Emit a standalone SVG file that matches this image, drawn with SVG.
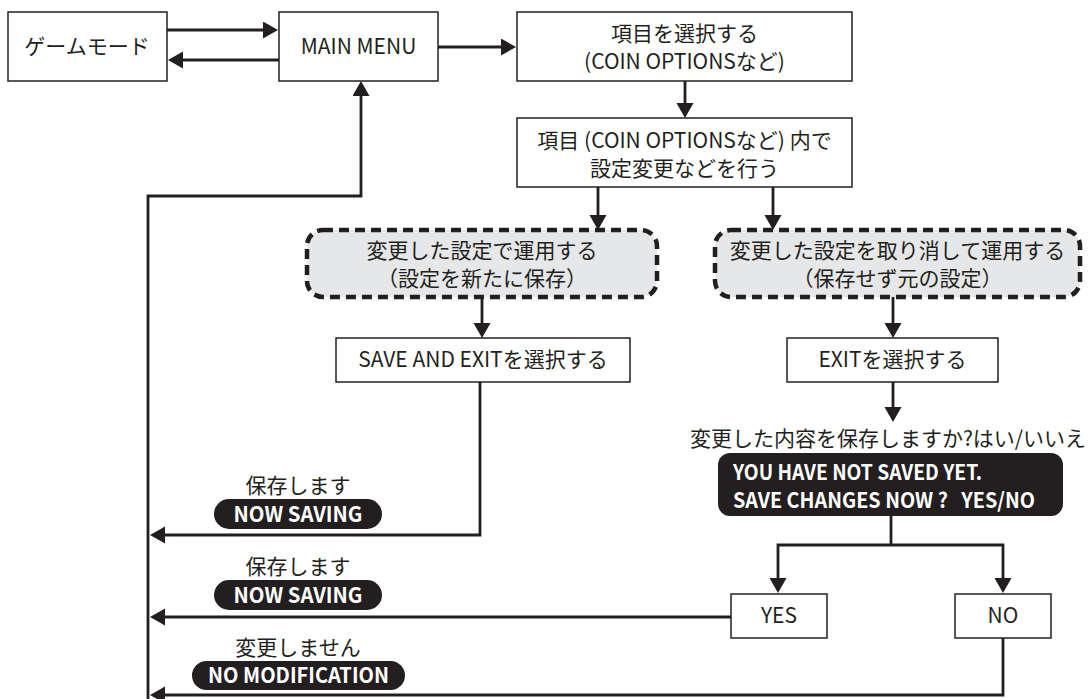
<svg xmlns="http://www.w3.org/2000/svg" width="1089" height="699" viewBox="0 0 1089 699">
  <style>
    .box { fill: #ffffff; stroke: #231f20; stroke-width: 1.5; }
    .choice { fill: #e6e7e8; stroke: #231f20; stroke-width: 4.5; stroke-dasharray: 10 6; }
    .dark { fill: #231f20; }
    .conn { fill: none; stroke: #231f20; stroke-width: 2.8; }
    .t { font-family: "Noto Sans CJK JP", "Noto Sans", sans-serif; font-size: 21px; fill: #231f20; text-anchor: middle; }
    .w { font-family: "Noto Sans CJK JP", "Noto Sans", sans-serif; font-size: 21px; font-weight: 700; fill: #ffffff; }
    .wc { text-anchor: middle; }
  </style>
  <defs>
    <marker id="arrow" markerUnits="userSpaceOnUse" markerWidth="16" markerHeight="18" refX="12" refY="8.5" orient="auto">
      <path d="M0,0 L15,8.5 L0,17 z" fill="#231f20"/>
    </marker>
  </defs>

  <!-- connectors -->
  <g id="connectors">
    <path class="conn" d="M167,30 H275" marker-end="url(#arrow)"/>
    <path class="conn" d="M279,60 H171" marker-end="url(#arrow)"/>
    <path class="conn" d="M438,47 H513" marker-end="url(#arrow)"/>
    <path class="conn" d="M685,81 V115" marker-end="url(#arrow)"/>
    <path class="conn" d="M598,187 V227" marker-end="url(#arrow)"/>
    <path class="conn" d="M773,187 V227" marker-end="url(#arrow)"/>
    <path class="conn" d="M482,297 V335" marker-end="url(#arrow)"/>
    <path class="conn" d="M893,297 V335" marker-end="url(#arrow)"/>
    <path class="conn" d="M893,382 V419" marker-end="url(#arrow)"/>
    <path class="conn" d="M891,516 V545"/>
    <path class="conn" d="M891,545 H778 V590" marker-end="url(#arrow)"/>
    <path class="conn" d="M891,545 H1003 V590" marker-end="url(#arrow)"/>
    <path class="conn" d="M480,382 V535 H153" marker-end="url(#arrow)"/>
    <path class="conn" d="M731,617 H153" marker-end="url(#arrow)"/>
    <path class="conn" d="M1003,638 V695 H153" marker-end="url(#arrow)"/>
    <path class="conn" d="M148,699 V196 H361 V84" marker-end="url(#arrow)"/>
  </g>

  <g id="game-mode">
    <rect class="box" x="8" y="12" width="159" height="69"/>
    <text class="t" x="87" y="54">ゲームモード</text>
  </g>

  <g id="main-menu">
    <rect class="box" x="279" y="12" width="159" height="69"/>
    <text class="t" x="358.5" y="54">MAIN MENU</text>
  </g>

  <g id="select-item">
    <rect class="box" x="517" y="12" width="335" height="69"/>
    <text class="t" x="684.5" y="41">項目を選択する</text>
    <text class="t" x="684.5" y="69">(COIN OPTIONSなど)</text>
  </g>

  <g id="edit-item">
    <rect class="box" x="517" y="118" width="335" height="69"/>
    <text class="t" x="684.5" y="148">項目 (COIN OPTIONSなど) 内で</text>
    <text class="t" x="684.5" y="176">設定変更などを行う</text>
  </g>

  <g id="apply-changes">
    <rect class="choice" x="307" y="230" width="350" height="67" rx="16"/>
    <text class="t" x="482" y="258">変更した設定で運用する</text>
    <text class="t" x="482" y="286">（設定を新たに保存）</text>
  </g>

  <g id="discard-changes">
    <rect class="choice" x="715" y="230" width="365" height="67" rx="16"/>
    <text class="t" x="897.5" y="258">変更した設定を取り消して運用する</text>
    <text class="t" x="897.5" y="286">（保存せず元の設定）</text>
  </g>

  <g id="save-and-exit">
    <rect class="box" x="336" y="338" width="294" height="44"/>
    <text class="t" x="483" y="367">SAVE AND EXITを選択する</text>
  </g>

  <g id="exit">
    <rect class="box" x="787" y="338" width="211" height="44"/>
    <text class="t" x="892.5" y="367">EXITを選択する</text>
  </g>

  <g id="confirm-prompt">
    <text class="t" x="888" y="446">変更した内容を保存しますか?はい/いいえ</text>
    <rect class="dark" x="718" y="453" width="345" height="63" rx="12"/>
    <text class="w" x="733" y="480" textLength="249" lengthAdjust="spacingAndGlyphs">YOU HAVE NOT SAVED YET.</text>
    <text class="w" x="733" y="508" xml:space="preserve" textLength="302" lengthAdjust="spacingAndGlyphs">SAVE CHANGES NOW ?   YES/NO</text>
  </g>

  <g id="yes">
    <rect class="box" x="731" y="594" width="96" height="44"/>
    <text class="t" x="779" y="623">YES</text>
  </g>

  <g id="no">
    <rect class="box" x="955" y="594" width="96" height="44"/>
    <text class="t" x="1003" y="623">NO</text>
  </g>

  <g id="saving-label-1">
    <text class="t" x="298" y="493">保存します</text>
    <rect class="dark" x="214" y="499" width="168" height="30" rx="15"/>
    <text class="w wc" x="298" y="521.5" textLength="129" lengthAdjust="spacingAndGlyphs">NOW SAVING</text>
  </g>

  <g id="saving-label-2">
    <text class="t" x="298" y="574">保存します</text>
    <rect class="dark" x="214" y="580" width="168" height="30" rx="15"/>
    <text class="w wc" x="298" y="602.5" textLength="129" lengthAdjust="spacingAndGlyphs">NOW SAVING</text>
  </g>

  <g id="no-change-label">
    <text class="t" x="298" y="655">変更しません</text>
    <rect class="dark" x="192" y="661" width="213" height="29" rx="14.5"/>
    <text class="w wc" x="298.5" y="683" textLength="181" lengthAdjust="spacingAndGlyphs">NO MODIFICATION</text>
  </g>
</svg>
